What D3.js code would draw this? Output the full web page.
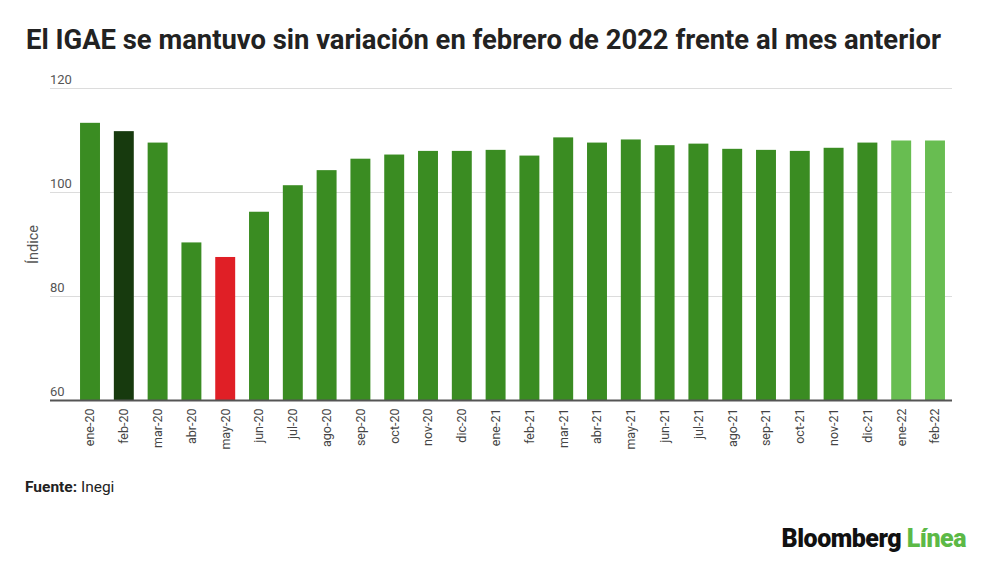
<!DOCTYPE html>
<html>
<head>
<meta charset="utf-8">
<script src="https://cdn.jsdelivr.net/npm/d3@7"></script>
<style>
  body { margin: 0; background: #fff; }
  svg { font-family: Roboto, "Noto Sans", sans-serif; }
</style>
</head>
<body>
<svg width="1000" height="569"></svg>
<script>
var months = ["ene-20", "feb-20", "mar-20", "abr-20", "may-20", "jun-20", "jul-20", "ago-20",
    "sep-20", "oct-20", "nov-20", "dic-20", "ene-21", "feb-21", "mar-21", "abr-21", "may-21",
    "jun-21", "jul-21", "ago-21", "sep-21", "oct-21", "nov-21", "dic-21", "ene-22", "feb-22"];
var igae = [113.4, 111.8, 109.6, 90.4, 87.6, 96.3, 101.4, 104.3, 106.5, 107.3, 108.0, 108.0,
    108.2, 107.1, 110.6, 109.6, 110.2, 109.1, 109.4, 108.4, 108.2, 108.0, 108.6, 109.6, 110.0, 110.0];
var yTicks = [60, 80, 100, 120];

var colors = { base: "#3a8c22", dark: "#173a0e", red: "#e01f26", light: "#68bd51" };
function barColor(m) {
    if (m === "feb-20") return colors.dark;
    if (m === "may-20") return colors.red;
    if (m === "ene-22" || m === "feb-22") return colors.light;
    return colors.base;
}

var svg = d3.select("svg");

var plotLeft = 50, plotRight = 952, plotTop = 88.5, plotBottom = 400.5;

var x = d3.scaleBand()
    .domain(months)
    .range([69.9, 955.1])
    .paddingInner(0.41)
    .paddingOuter(0.3);

var y = d3.scaleLinear()
    .domain([60, 120])
    .range([plotBottom, plotTop]);

// title
svg.append("text")
    .attr("x", 26)
    .attr("y", 49)
    .attr("font-size", 27.4)
    .attr("font-weight", "bold")
    .attr("fill", "#222")
    .text("El IGAE se mantuvo sin variación en febrero de 2022 frente al mes anterior");

// gridlines
svg.append("g")
    .selectAll("line")
    .data(yTicks.filter(function(d) { return d > 60; }))
    .enter().append("line")
    .attr("x1", plotLeft)
    .attr("x2", plotRight)
    .attr("y1", function(d) { return y(d); })
    .attr("y2", function(d) { return y(d); })
    .attr("stroke", "#dcdcdc")
    .attr("stroke-width", 1);

// y tick labels sit above the gridlines
svg.append("g")
    .selectAll("text")
    .data(yTicks)
    .enter().append("text")
    .attr("x", plotLeft)
    .attr("y", function(d) { return y(d) - 5; })
    .attr("font-size", 13)
    .attr("fill", "#555")
    .text(function(d) { return d; });

// bars
svg.append("g")
    .selectAll("rect")
    .data(months)
    .enter().append("rect")
    .attr("x", function(d) { return x(d); })
    .attr("y", function(d, i) { return y(igae[i]); })
    .attr("width", x.bandwidth())
    .attr("height", function(d, i) { return y(60) - y(igae[i]); })
    .attr("fill", barColor);

// baseline
svg.append("line")
    .attr("x1", plotLeft)
    .attr("x2", plotRight)
    .attr("y1", y(60))
    .attr("y2", y(60))
    .attr("stroke", "#555")
    .attr("stroke-width", 2);

// x labels
var xAxis = svg.append("g")
    .attr("transform", "translate(0," + (y(60) + 1) + ")")
    .call(d3.axisBottom(x).tickSize(0).tickPadding(0));
xAxis.select(".domain").remove();
xAxis.selectAll("text")
    .attr("font-family", "Roboto, sans-serif")
    .attr("font-size", 12.5)
    .attr("fill", "#444")
    .attr("transform", "rotate(-90)")
    .attr("x", -7)
    .attr("y", 0)
    .attr("dy", "0.35em")
    .style("text-anchor", "end");

// y axis title
svg.append("text")
    .attr("transform", "translate(38," + ((plotTop + plotBottom) / 2) + ") rotate(-90)")
    .attr("text-anchor", "middle")
    .attr("font-size", 14.5)
    .attr("fill", "#555")
    .text("Índice");

// source
var src = svg.append("text")
    .attr("x", 25)
    .attr("y", 492)
    .attr("font-size", 15.5)
    .attr("fill", "#222");
src.append("tspan").attr("font-weight", "bold").text("Fuente:");
src.append("tspan").text(" Inegi");

// logo
var logo = svg.append("text")
    .attr("x", 966)
    .attr("y", 547)
    .attr("text-anchor", "end")
    .attr("font-size", 25)
    .attr("font-weight", 900)
    .attr("letter-spacing", -0.5);
logo.append("tspan").attr("fill", "#111").text("Bloomberg ");
logo.append("tspan").attr("fill", "#5cb946").text("Línea");
</script>
</body>
</html>
